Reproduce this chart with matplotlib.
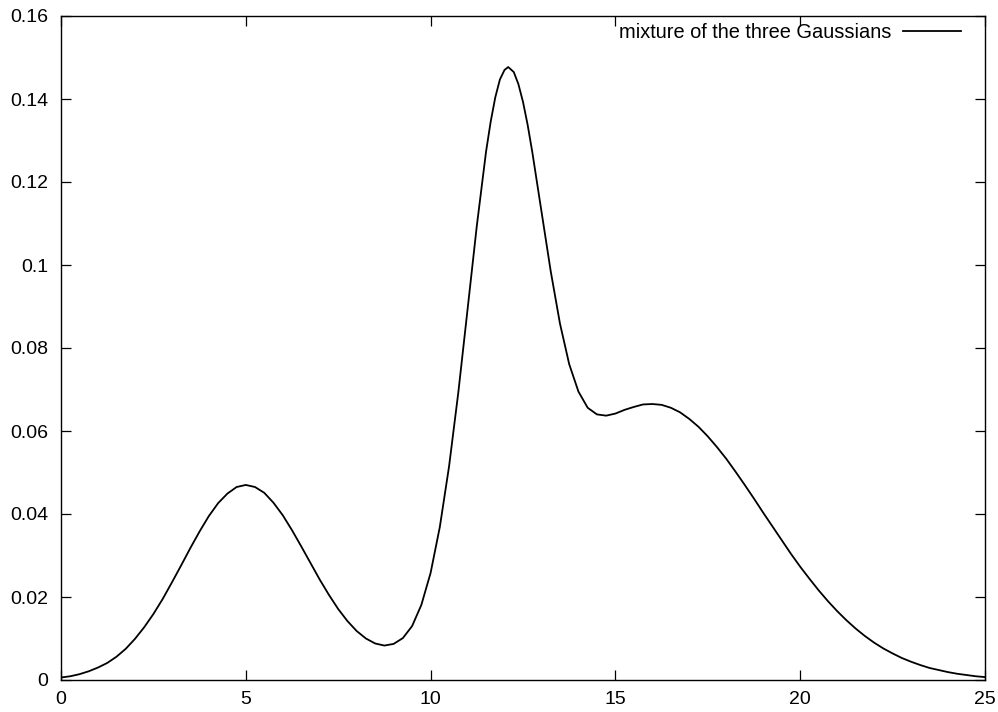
import matplotlib
matplotlib.use('Agg')
import matplotlib.pyplot as plt
from matplotlib.ticker import FixedLocator, FixedFormatter

# values
x = [0.0, 0.25, 0.5, 0.75, 1.0, 1.25, 1.5, 1.75, 2.0, 2.25, 2.5, 2.75,
     3.0, 3.25, 3.5, 3.75, 4.0, 4.25, 4.5, 4.75, 5.0, 5.25, 5.5, 5.75,
     6.0, 6.25, 6.5, 6.75, 7.0, 7.25, 7.5, 7.75, 8.0, 8.25, 8.5, 8.75,
     9.0, 9.25, 9.5, 9.75, 10.0, 10.25, 10.5, 10.75, 11.0, 11.25, 11.5,
     11.625, 11.75, 11.875, 12.0, 12.1, 12.25, 12.375, 12.5, 12.625, 12.75,
     13.0, 13.25, 13.5, 13.75, 14.0, 14.25, 14.5, 14.75, 15.0, 15.25,
     15.5, 15.75, 16.0, 16.25, 16.5, 16.75, 17.0, 17.25, 17.5, 17.75,
     18.0, 18.25, 18.5, 18.75, 19.0, 19.25, 19.5, 19.75, 20.0, 20.25,
     20.5, 20.75, 21.0, 21.25, 21.5, 21.75, 22.0, 22.25, 22.5, 22.75,
     23.0, 23.25, 23.5, 23.75, 24.0, 24.25, 24.5, 24.75, 25.0]
y = [0.0006, 0.0009, 0.0014, 0.0021, 0.0030, 0.0041, 0.0056, 0.0075,
     0.0099, 0.0127, 0.0159, 0.0195, 0.0235, 0.0276, 0.0318, 0.0358,
     0.0395, 0.0426, 0.0449, 0.0465, 0.0470, 0.0465, 0.0451, 0.0427,
     0.0397, 0.0361, 0.0322, 0.0282, 0.0242, 0.0205, 0.0171, 0.0142,
     0.0118, 0.0100, 0.0088, 0.0083, 0.0087, 0.0101, 0.0130, 0.0181,
     0.0258, 0.0369, 0.0515, 0.0693, 0.0893, 0.1094, 0.1273, 0.1345,
     0.1404, 0.1447, 0.1470, 0.1477, 0.1465, 0.1436, 0.1393, 0.1338,
     0.1273, 0.1129, 0.0985, 0.0859, 0.0761, 0.0695, 0.0656, 0.0640,
     0.0637, 0.0642, 0.0651, 0.0658, 0.0664, 0.0665, 0.0663, 0.0656,
     0.0645, 0.0629, 0.0610, 0.0587, 0.0561, 0.0533, 0.0502, 0.0470,
     0.0437, 0.0403, 0.0370, 0.0337, 0.0304, 0.0273, 0.0244, 0.0216,
     0.0190, 0.0166, 0.0144, 0.0124, 0.0106, 0.0090, 0.0076, 0.0064,
     0.0053, 0.0044, 0.0036, 0.0029, 0.0024, 0.0019, 0.0015, 0.0012,
     0.0009, 0.0007]

xticks = [0, 5, 10, 15, 20, 25]
yticks = [0, 0.02, 0.04, 0.06, 0.08, 0.1, 0.12, 0.14, 0.16]
ytick_labels = ['0', '0.02', '0.04', '0.06', '0.08', '0.1', '0.12', '0.14', '0.16']
label = 'mixture of the three Gaussians'

plt.rcParams['font.family'] = ['Liberation Sans', 'DejaVu Sans']

fig = plt.figure(figsize=(9.98, 7.12), dpi=100)
ax = fig.add_axes([61 / 998, 32 / 712, 924 / 998, 664 / 712])

ax.plot(x, y, color='black', linewidth=1.3, label=label)

ax.set_xlim(0, 25)
ax.set_ylim(0, 0.16)
ax.xaxis.set_major_locator(FixedLocator(xticks))
ax.yaxis.set_major_locator(FixedLocator(yticks))
ax.yaxis.set_major_formatter(FixedFormatter(ytick_labels))
ax.tick_params(direction='in', length=7, width=0.9, top=True, right=True,
               labelsize=14, colors='black')
ax.tick_params(axis='y', pad=9)
ax.tick_params(axis='x', pad=8)
for s in ax.spines.values():
    s.set_linewidth(1.0)
    s.set_color('black')

ax.legend(loc='upper right', frameon=False, markerfirst=False, fontsize=14.4,
          handlelength=2.9, handletextpad=0.6, borderpad=0, borderaxespad=0,
          bbox_to_anchor=(0.974, 0.99))

fig.savefig('out.png', dpi=100)
